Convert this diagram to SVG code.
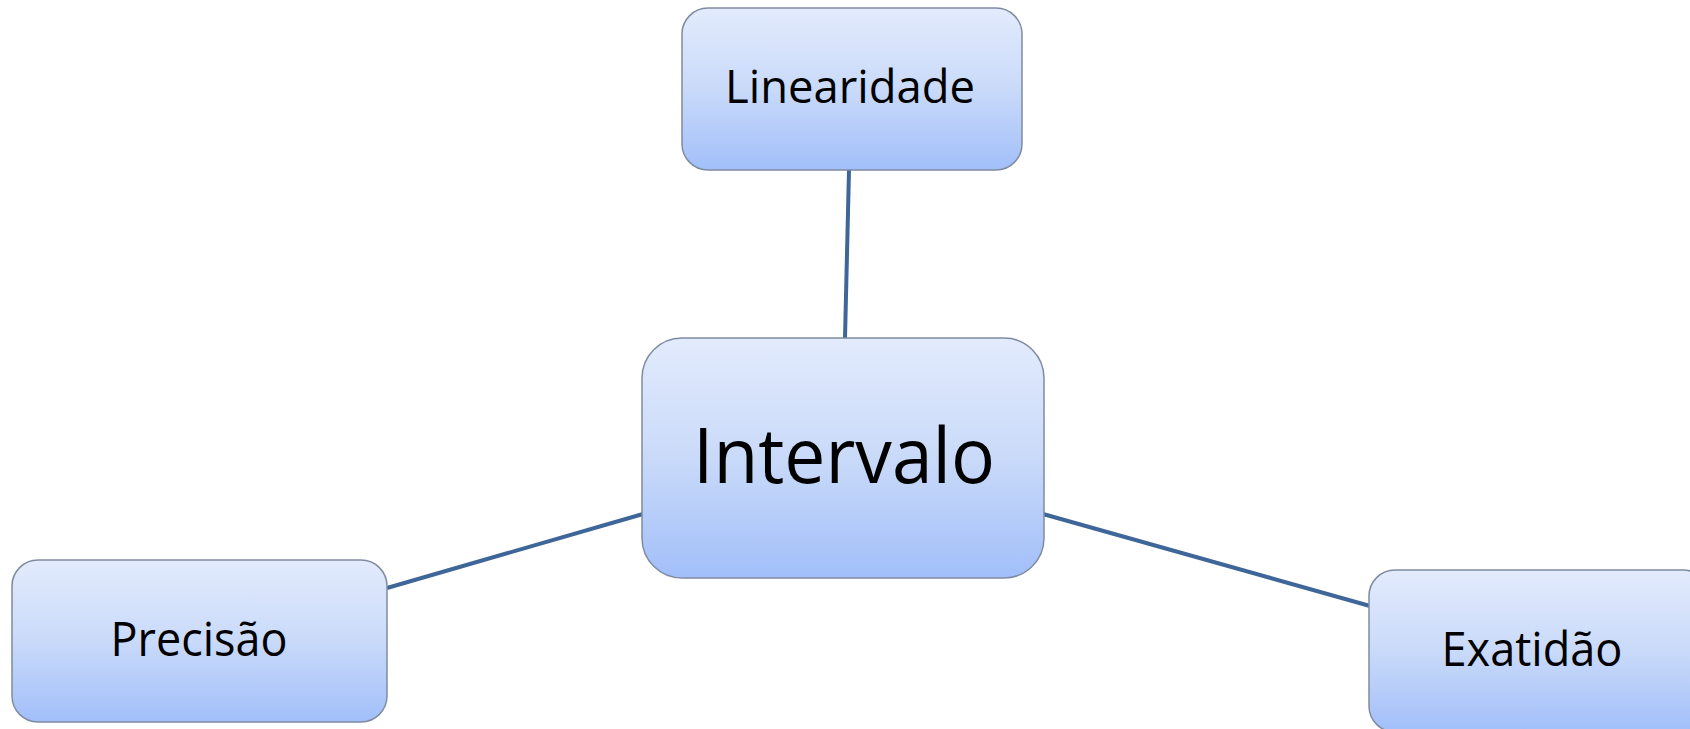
<svg xmlns="http://www.w3.org/2000/svg" width="1690" height="729" viewBox="0 0 1690 729">
<defs>
<linearGradient id="g" x1="0" y1="0" x2="0" y2="1">
<stop offset="0" stop-color="#e3ebfd"/>
<stop offset="0.5" stop-color="#c9daf9"/>
<stop offset="1" stop-color="#a2bffa"/>
</linearGradient>
<style>
.box{fill:url(#g);stroke:#7f8ca0;stroke-width:1.5}
.t{font-family:"Open Sans","Liberation Sans",sans-serif;fill:#000;text-anchor:middle}
.c{stroke:#3f6699;stroke-width:4;fill:none}
</style>
</defs>
<rect width="1690" height="729" fill="#fff"/>
<g id="connectors">
<line class="c" x1="849" y1="170" x2="845" y2="338"/>
<line class="c" x1="387" y1="588" x2="643" y2="514"/>
<line class="c" x1="1043" y1="514" x2="1370" y2="606"/>
</g>
<g id="linearidade">
<rect class="box" x="682" y="8" width="340" height="162" rx="26"/>
<text class="t" x="850" y="103" font-size="46" textLength="250" lengthAdjust="spacingAndGlyphs">Linearidade</text>
</g>
<g id="intervalo">
<rect class="box" x="642" y="338" width="402" height="240" rx="40"/>
<text class="t" x="844" y="483" font-size="76" textLength="302" lengthAdjust="spacingAndGlyphs">Intervalo</text>
</g>
<g id="precisao">
<rect class="box" x="12" y="560" width="375" height="162" rx="26"/>
<text class="t" x="199" y="656" font-size="47" textLength="177" lengthAdjust="spacingAndGlyphs">Precisão</text>
</g>
<g id="exatidao">
<rect class="box" x="1369" y="570" width="340" height="162" rx="26"/>
<text class="t" x="1532" y="666" font-size="47" textLength="181" lengthAdjust="spacingAndGlyphs">Exatidão</text>
</g>
</svg>
